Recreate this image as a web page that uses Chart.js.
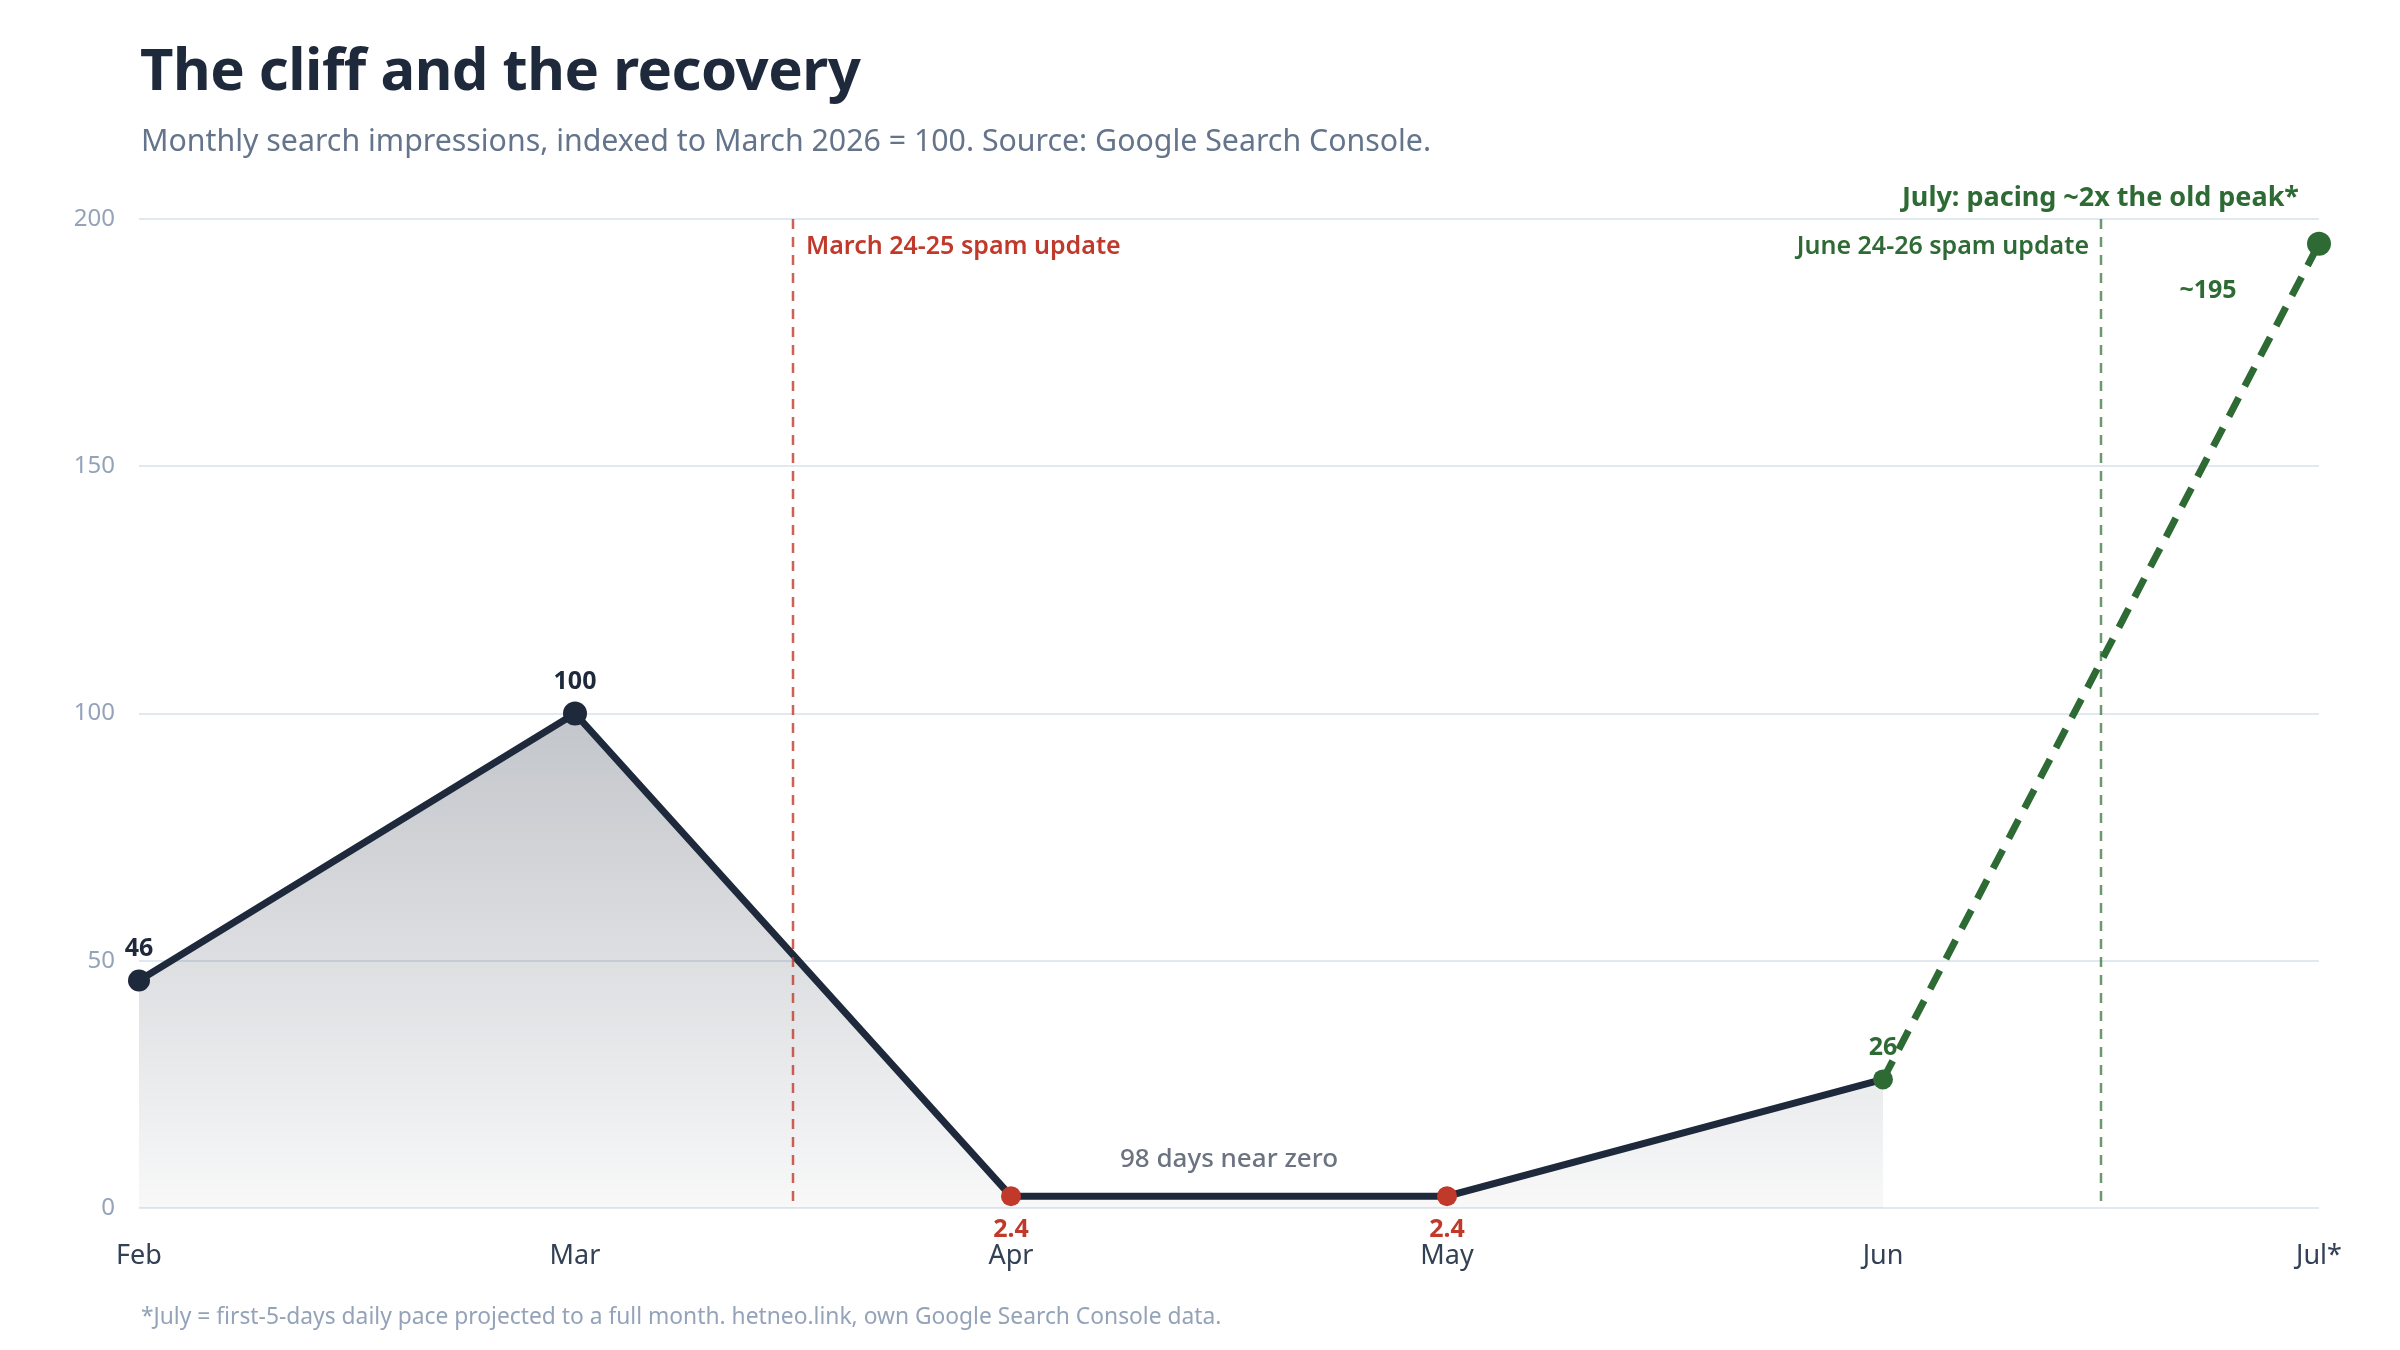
<!DOCTYPE html>
<html>
<head>
<meta charset="utf-8">
<script src="https://cdn.jsdelivr.net/npm/chart.js@4.4.1/dist/chart.umd.min.js"></script>
<style>
  html, body { margin: 0; padding: 0; background: #fff; }
  body { width: 2400px; height: 1350px; position: relative; overflow: hidden; font-family: "Noto Sans", sans-serif; }
  #title { position: absolute; left: 140px; top: 28px; font-size: 58px; font-weight: 700; color: #1e293b; letter-spacing: -0.5px; }
  #subtitle { position: absolute; left: 141px; top: 119px; font-size: 30.3px; color: #64748b; }
  #footer { position: absolute; left: 141px; top: 1300px; font-size: 22.8px; color: #94a3b8; }
  #wrap { position: absolute; left: 0; top: 0; width: 2400px; height: 1350px; }
</style>
</head>
<body>
<div id="wrap"><canvas id="chart"></canvas></div>
<div id="title">The cliff and the recovery</div>
<div id="subtitle">Monthly search impressions, indexed to March 2026 = 100. Source: Google Search Console.</div>
<div id="footer">*July = first-5-days daily pace projected to a full month. hetneo.link, own Google Search Console data.</div>
<script>
// data
const months = ["Feb", "Mar", "Apr", "May", "Jun", "Jul*"];
const actual = [46, 100, 2.4, 2.4, 26, null];
const projected = [null, null, null, null, 26, 195];
const valueLabels = ["46", "100", "2.4", "2.4", "26", "~195"];
const yTicks = [0, 50, 100, 150, 200];
const eventAt = [1.5, 4.5];
const eventText = ["March 24-25 spam update", "June 24-26 spam update"];

const NAVY = "#1e293b";
const RED = "#c0392b";
const GREEN = "#2e6b34";
const FONT = '"Noto Sans", sans-serif';

const pointColors = [NAVY, NAVY, RED, RED, GREEN, GREEN];

const annotations = {
  id: "annotations",
  afterDatasetsDraw(chart) {
    const { ctx, chartArea, scales } = chart;
    const x = scales.x, y = scales.y;
    ctx.save();

    // spam update lines
    const lineColors = ["rgba(192,57,43,0.8)", "rgba(46,107,52,0.7)"];
    eventAt.forEach((pos, i) => {
      const px = x.getPixelForValue(pos);
      ctx.strokeStyle = lineColors[i];
      ctx.lineWidth = 2.5;
      ctx.setLineDash([10, 8]);
      ctx.beginPath();
      ctx.moveTo(px, chartArea.top);
      ctx.lineTo(px, chartArea.bottom - 4);
      ctx.stroke();
    });
    ctx.setLineDash([]);

    ctx.font = "600 25px " + FONT;
    ctx.textBaseline = "middle";
    ctx.fillStyle = RED;
    ctx.textAlign = "left";
    ctx.fillText(eventText[0], x.getPixelForValue(eventAt[0]) + 13, chartArea.top + 28);
    ctx.fillStyle = GREEN;
    ctx.textAlign = "right";
    ctx.fillText(eventText[1], x.getPixelForValue(eventAt[1]) - 12, chartArea.top + 28);

    ctx.font = "700 27px " + FONT;
    ctx.fillText("July: pacing ~2x the old peak*", x.getPixelForValue(5) - 20, chartArea.top - 21);

    // value labels
    ctx.textAlign = "center";
    ctx.font = "700 25px " + FONT;
    for (let i = 0; i < 5; i++) {
      const v = actual[i];
      const px = x.getPixelForValue(i);
      const py = y.getPixelForValue(v);
      ctx.fillStyle = pointColors[i];
      const below = v < 10;
      ctx.fillText(valueLabels[i], px, below ? py + 34 : py - 32);
    }
    ctx.fillStyle = GREEN;
    ctx.fillText(valueLabels[5], x.getPixelForValue(5) - 111, y.getPixelForValue(projected[5]) + 47);

    // flat stretch note
    ctx.fillStyle = "#6b7280";
    ctx.font = "500 26px " + FONT;
    ctx.fillText("98 days near zero", (x.getPixelForValue(2) + x.getPixelForValue(3)) / 2, y.getPixelForValue(actual[2]) - 37);

    ctx.restore();
  }
};

const ctx = document.getElementById("chart").getContext("2d");

new Chart(ctx, {
  type: "line",
  data: {
    labels: months,
    datasets: [{
      data: actual,
      borderColor: NAVY,
      borderWidth: 7,
      pointRadius: [11, 12, 10, 10, 10, 0],
      pointBackgroundColor: pointColors,
      pointBorderWidth: 0,
      tension: 0,
      fill: "origin",
      backgroundColor: function (c) {
        const area = c.chart.chartArea;
        if (!area) return "rgba(30,41,59,0.1)";
        const yScale = c.chart.scales.y;
        const g = c.chart.ctx.createLinearGradient(0, yScale.getPixelForValue(100), 0, area.bottom);
        g.addColorStop(0, "rgba(30,41,59,0.27)");
        g.addColorStop(1, "rgba(30,41,59,0.03)");
        return g;
      },
      order: 2
    }, {
      data: projected,
      borderColor: GREEN,
      borderWidth: 7,
      borderDash: [21, 13],
      pointRadius: [0, 0, 0, 0, 0, 12],
      pointBackgroundColor: GREEN,
      pointBorderWidth: 0,
      fill: false,
      order: 1
    }]
  },
  options: {
    responsive: true,
    maintainAspectRatio: false,
    animation: false,
    layout: { padding: { left: 0, right: 81, top: 219, bottom: 0 } },
    plugins: {
      legend: { display: false },
      tooltip: { enabled: false }
    },
    scales: {
      x: {
        offset: false,
        grid: { display: false },
        border: { display: false },
        ticks: { color: "#334155", font: { family: FONT, size: 27 }, padding: 24, maxRotation: 0 },
        afterFit(s) { s.height = 142; }
      },
      y: {
        min: 0,
        max: 200,
        afterBuildTicks(s) { s.ticks = yTicks.map(v => ({ value: v })); },
        grid: { color: "#e2e8f0", lineWidth: 2, drawTicks: false },
        border: { display: false },
        ticks: { color: "#94a3b8", font: { family: FONT, size: 24 }, padding: 24 },
        afterFit(s) { s.width = 139; }
      }
    }
  },
  plugins: [annotations]
});
</script>
</body>
</html>
